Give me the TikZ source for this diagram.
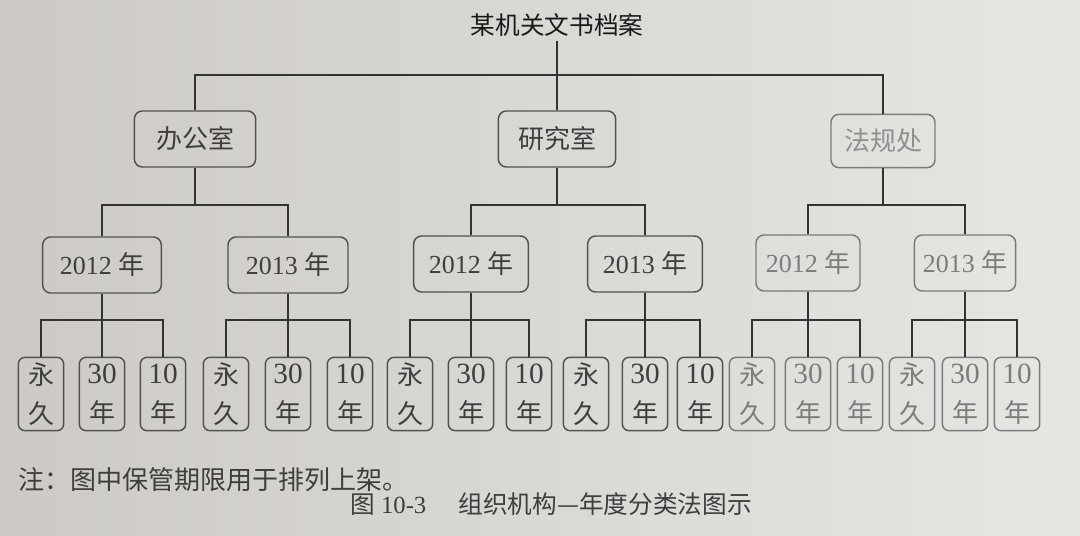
\documentclass[tikz,border=0pt]{standalone}
\usepackage{fontspec}
\setmainfont{Liberation Serif}
\newfontfamily\cjk{Noto Sans CJK SC}
\newcommand\zh[1]{{\cjk #1}}
\newcommand\bignum[1]{{\fontsize{22}{29}\selectfont #1}}
\definecolor{bgL}{HTML}{CDCAC5}
\definecolor{bgR}{HTML}{E6E6E3}
\definecolor{ink}{HTML}{333333}
\definecolor{txt}{HTML}{3E3E3E}
\definecolor{pale}{HTML}{7C7C7C}
\tikzset{
  conn/.style={draw=ink, line width=1.5pt},
  box/.style={draw=ink!85, line width=1.1pt, rounded corners=6pt, inner sep=0pt, align=center, text=txt},
  deptbox/.style={box, minimum width=88pt, minimum height=42pt, font=\fontsize{19.5}{23}\selectfont},
  yearbox/.style={box, minimum width=86pt, minimum height=42pt, font=\fontsize{19.5}{23}\selectfont},
  leaf/.style={box, minimum width=34pt, minimum height=55pt, rounded corners=5pt, font=\fontsize{19.5}{29}\selectfont},
  faded/.style={text=pale, draw=ink!65},
}
\begin{document}
\begin{tikzpicture}[x=0.75pt, y=-0.75pt]
\useasboundingbox (0,0) rectangle (1080,535);
\shade[left color=bgL, right color=bgR] (0,0) rectangle (1080,535);

% title
\node[font=\cjk\fontsize{18.5}{22}\selectfont, text=black!90, inner sep=3pt] (title) at (557,25) {某机关文书档案};

% level 1
\node[deptbox, minimum width=91pt] (b1) at (195,139) {\zh{办公室}};
\node[deptbox] (b2) at (557,139) {\zh{研究室}};
\node[deptbox, minimum width=78pt, minimum height=40pt, faded, text=pale!85] (b3) at (883,141) {\zh{法规处}};

\coordinate (tb) at (557,75);
\draw[conn] (title.south) -- (b2.north);
\draw[conn] (b1.north) |- (tb) -| (b3.north);

% level 2
\node[yearbox, minimum width=89pt] (c11) at (102,265) {2012 \zh{年}};
\node[yearbox, minimum width=90pt] (c12) at (288,265) {2013 \zh{年}};
\node[yearbox] (c21) at (471,264) {2012 \zh{年}};
\node[yearbox] (c22) at (645,264) {2013 \zh{年}};
\node[yearbox, minimum width=78pt, faded] (c31) at (808,263) {2012 \zh{年}};
\node[yearbox, minimum width=76pt, faded] (c32) at (965,263) {2013 \zh{年}};

\coordinate (y2) at (0,205);
\draw[conn] (b1.south) -- (b1 |- y2);
\draw[conn] (c11.north) |- (b1 |- y2) -| (c12.north);
\draw[conn] (b2.south) -- (b2 |- y2);
\draw[conn] (c21.north) |- (b2 |- y2) -| (c22.north);
\draw[conn] (b3.south) -- (b3 |- y2);
\draw[conn] (c31.north) |- (b3 |- y2) -| (c32.north);

% level 3
\coordinate (y3) at (0,320);
\foreach \g/\p/\a/\c/\st in {11/102/41/163/{}, 12/288/226/350/{}, 21/471/410/529/{}, 22/645/586/700/{}, 31/808/752/860/faded, 32/965/912/1017/faded} {
  \node[leaf, \st] (l\g-1) at (\a,394) {\zh{永}\\\zh{久}};
  \node[leaf, \st] (l\g-2) at (\p,394) {\bignum{30}\\\zh{年}};
  \node[leaf, \st] (l\g-3) at (\c,394) {\bignum{10}\\\zh{年}};
  \draw[conn] (c\g.south) -- (l\g-2.north);
  \draw[conn] (l\g-1.north) |- (c\g |- y3) -| (l\g-3.north);
}

% note and caption
\node[anchor=west, inner sep=0pt, text=txt, font=\cjk\fontsize{19.5}{22}\selectfont] (note) at (18,480) {注：图中保管期限用于排列上架。};
\node[inner sep=0pt, text=txt, font=\fontsize{18.5}{20}\selectfont] (cap) at (551,504) {\zh{图} 10-3\hspace{1.3em}\zh{组织机构—年度分类法图示}};
\end{tikzpicture}
\end{document}
